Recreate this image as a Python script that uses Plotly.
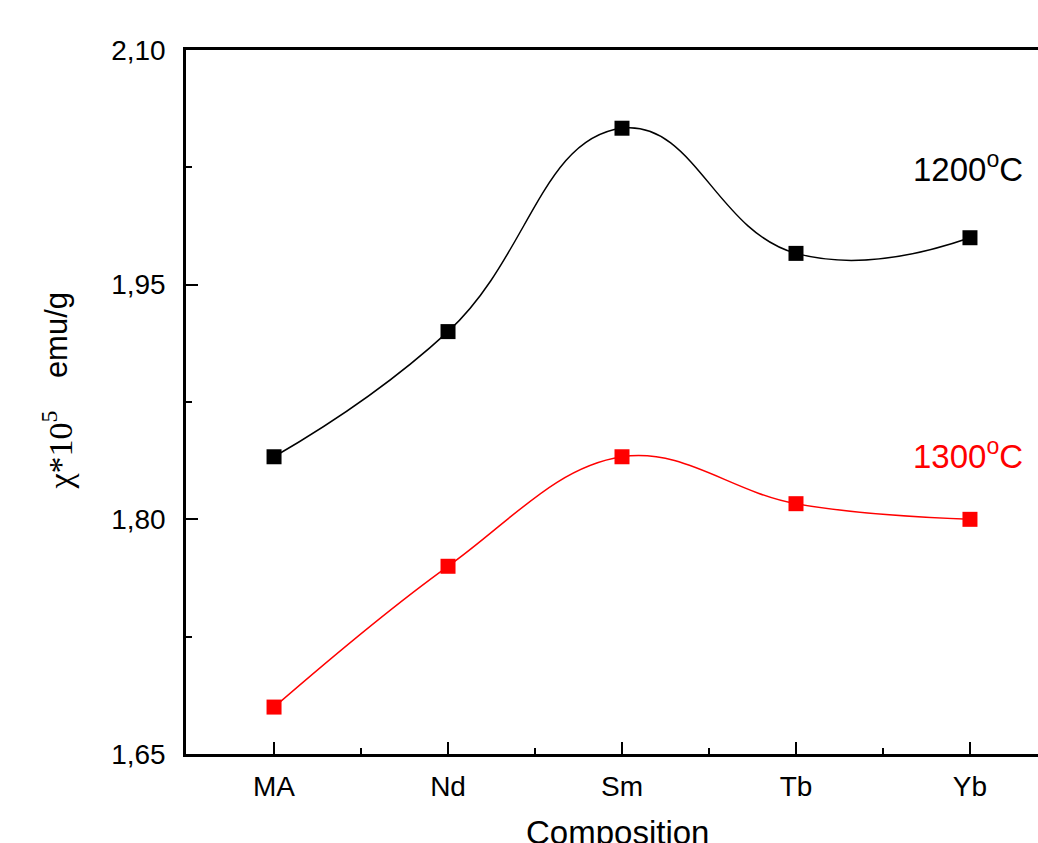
import plotly.graph_objects as go

# Magnetic susceptibility by composition at two sintering temperatures
categories = ["MA", "Nd", "Sm", "Tb", "Yb"]
chi_1200 = [1.84, 1.92, 2.05, 1.97, 1.98]
chi_1300 = [1.68, 1.77, 1.84, 1.81, 1.80]
y_ticks = [1.65, 1.80, 1.95, 2.10]

xpos = list(range(len(categories)))
FONT = "Liberation Sans, Arial, sans-serif"
SERIF = "Liberation Serif, Times New Roman, serif"

fig = go.Figure()
fig.add_trace(go.Scatter(
    x=xpos, y=chi_1200, mode="lines+markers", name="1200°C",
    line=dict(color="black", width=1.5, shape="spline", smoothing=1.3),
    marker=dict(symbol="square", size=15, color="black"),
))
fig.add_trace(go.Scatter(
    x=xpos, y=chi_1300, mode="lines+markers", name="1300°C",
    line=dict(color="#ff0000", width=1.5, shape="spline", smoothing=1.1),
    marker=dict(symbol="square", size=15, color="#ff0000"),
))

fig.update_layout(
    width=1038, height=843,
    margin=dict(l=186, r=0, t=50, b=89),
    paper_bgcolor="white", plot_bgcolor="white",
    showlegend=False,
    separators=",.",
    font=dict(family=FONT, color="black"),
)

fig.update_xaxes(
    range=[-0.506, 4.391],
    tickmode="array", tickvals=xpos, ticktext=categories,
    ticks="inside", ticklen=12, tickwidth=2, tickcolor="black",
    ticklabelstandoff=6,
    minor=dict(tickmode="array", tickvals=[i + 0.5 for i in xpos[:-1]],
               ticks="inside", ticklen=6, tickwidth=2, tickcolor="black"),
    showline=True, linecolor="black", linewidth=2.5, mirror=True,
    showgrid=False, zeroline=False,
    tickfont=dict(size=28, family=FONT),
)
fig.update_yaxes(
    range=[1.65, 2.10],
    tickmode="array", tickvals=y_ticks, tickformat=".2f",
    ticks="inside", ticklen=12, tickwidth=2, tickcolor="black",
    ticklabelstandoff=12,
    minor=dict(tickmode="array",
               tickvals=[(a + b) / 2 for a, b in zip(y_ticks[:-1], y_ticks[1:])],
               ticks="inside", ticklen=6, tickwidth=2, tickcolor="black"),
    showline=True, linecolor="black", linewidth=2.5, mirror=False,
    showgrid=False, zeroline=False,
    tickfont=dict(size=28, family=FONT),
)

# Axis titles
fig.add_annotation(
    text="Composition", xref="paper", yref="paper", x=0.506, y=0,
    xanchor="center", yanchor="top", yshift=-58, showarrow=False,
    font=dict(size=33, family=FONT),
)
# y title: symbol part in serif, unit part in sans
fig.add_annotation(
    text="χ*10<sup>5</sup>",
    xref="paper", yref="paper", x=0, y=0.431, xanchor="center", yanchor="middle",
    xshift=-129, textangle=-90, showarrow=False,
    font=dict(size=34, family=SERIF),
)
fig.add_annotation(
    text="emu/g",
    xref="paper", yref="paper", x=0, y=0.595, xanchor="center", yanchor="middle",
    xshift=-130, textangle=-90, showarrow=False,
    font=dict(size=31, family=FONT),
)

# Series labels
fig.add_annotation(
    text="1200<sup>o</sup>C", x=3.66, y=2.025, xanchor="left", yanchor="middle",
    showarrow=False, font=dict(size=33, family=FONT, color="black"),
)
fig.add_annotation(
    text="1300<sup>o</sup>C", x=3.66, y=1.842, xanchor="left", yanchor="middle",
    showarrow=False, font=dict(size=33, family=FONT, color="#ff0000"),
)

fig.write_html("out.html")
